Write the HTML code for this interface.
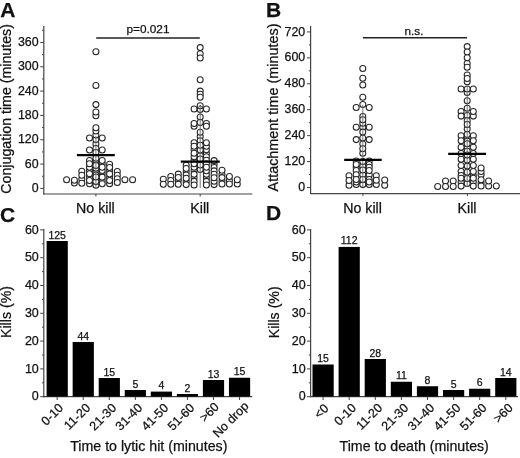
<!DOCTYPE html>
<html><head><meta charset="utf-8"><style>
html,body{margin:0;padding:0;background:#fff;width:520px;height:458px;overflow:hidden}
svg{display:block;font-family:"Liberation Sans", sans-serif;fill:#111;filter:grayscale(1) blur(0.3px)}
text{stroke:#111;stroke-width:0.25px}
circle{fill:#fff;stroke:#262626;stroke-width:1.05}
</style></head><body>
<svg width="520" height="458" viewBox="0 0 520 458">
<text x="0.3" y="17.4" font-size="21" font-weight="bold">A</text>
<text x="266" y="16.8" font-size="21" font-weight="bold">B</text>
<text x="0" y="221.5" font-size="21" font-weight="bold">C</text>
<text x="266" y="220.3" font-size="21" font-weight="bold">D</text>
<line x1="43.8" y1="26" x2="43.8" y2="194.6" stroke="#444" stroke-width="1.2"/>
<line x1="40.20" y1="188.40" x2="43.8" y2="188.40" stroke="#444" stroke-width="1"/>
<text x="38.6" y="192.00" font-size="12.4" text-anchor="end">0</text>
<line x1="40.20" y1="164.08" x2="43.8" y2="164.08" stroke="#444" stroke-width="1"/>
<text x="38.6" y="167.68" font-size="12.4" text-anchor="end">60</text>
<line x1="40.20" y1="139.75" x2="43.8" y2="139.75" stroke="#444" stroke-width="1"/>
<text x="38.6" y="143.35" font-size="12.4" text-anchor="end">120</text>
<line x1="40.20" y1="115.43" x2="43.8" y2="115.43" stroke="#444" stroke-width="1"/>
<text x="38.6" y="119.03" font-size="12.4" text-anchor="end">180</text>
<line x1="40.20" y1="91.10" x2="43.8" y2="91.10" stroke="#444" stroke-width="1"/>
<text x="38.6" y="94.70" font-size="12.4" text-anchor="end">240</text>
<line x1="40.20" y1="66.78" x2="43.8" y2="66.78" stroke="#444" stroke-width="1"/>
<text x="38.6" y="70.38" font-size="12.4" text-anchor="end">300</text>
<line x1="40.20" y1="42.46" x2="43.8" y2="42.46" stroke="#444" stroke-width="1"/>
<text x="38.6" y="46.06" font-size="12.4" text-anchor="end">360</text>
<line x1="42.00" y1="176.24" x2="43.8" y2="176.24" stroke="#444" stroke-width="1"/>
<line x1="42.00" y1="151.91" x2="43.8" y2="151.91" stroke="#444" stroke-width="1"/>
<line x1="42.00" y1="127.59" x2="43.8" y2="127.59" stroke="#444" stroke-width="1"/>
<line x1="42.00" y1="103.27" x2="43.8" y2="103.27" stroke="#444" stroke-width="1"/>
<line x1="42.00" y1="78.94" x2="43.8" y2="78.94" stroke="#444" stroke-width="1"/>
<line x1="42.00" y1="54.62" x2="43.8" y2="54.62" stroke="#444" stroke-width="1"/>
<line x1="42.00" y1="30.29" x2="43.8" y2="30.29" stroke="#444" stroke-width="1"/>
<line x1="43.20" y1="194" x2="252.3" y2="194" stroke="#444" stroke-width="1.2"/>
<line x1="95.90" y1="194" x2="95.90" y2="196.50" stroke="#444" stroke-width="1"/>
<line x1="200.20" y1="194" x2="200.20" y2="196.50" stroke="#444" stroke-width="1"/>
<line x1="310.6" y1="26" x2="310.6" y2="194.1" stroke="#444" stroke-width="1.2"/>
<line x1="307.00" y1="187.50" x2="310.6" y2="187.50" stroke="#444" stroke-width="1"/>
<text x="305.2" y="191.10" font-size="12.4" text-anchor="end">0</text>
<line x1="307.00" y1="161.57" x2="310.6" y2="161.57" stroke="#444" stroke-width="1"/>
<text x="305.2" y="165.17" font-size="12.4" text-anchor="end">120</text>
<line x1="307.00" y1="135.64" x2="310.6" y2="135.64" stroke="#444" stroke-width="1"/>
<text x="305.2" y="139.24" font-size="12.4" text-anchor="end">240</text>
<line x1="307.00" y1="109.70" x2="310.6" y2="109.70" stroke="#444" stroke-width="1"/>
<text x="305.2" y="113.30" font-size="12.4" text-anchor="end">360</text>
<line x1="307.00" y1="83.77" x2="310.6" y2="83.77" stroke="#444" stroke-width="1"/>
<text x="305.2" y="87.37" font-size="12.4" text-anchor="end">480</text>
<line x1="307.00" y1="57.84" x2="310.6" y2="57.84" stroke="#444" stroke-width="1"/>
<text x="305.2" y="61.44" font-size="12.4" text-anchor="end">600</text>
<line x1="307.00" y1="31.91" x2="310.6" y2="31.91" stroke="#444" stroke-width="1"/>
<text x="305.2" y="35.51" font-size="12.4" text-anchor="end">720</text>
<line x1="308.80" y1="174.53" x2="310.6" y2="174.53" stroke="#444" stroke-width="1"/>
<line x1="308.80" y1="148.60" x2="310.6" y2="148.60" stroke="#444" stroke-width="1"/>
<line x1="308.80" y1="122.67" x2="310.6" y2="122.67" stroke="#444" stroke-width="1"/>
<line x1="308.80" y1="96.74" x2="310.6" y2="96.74" stroke="#444" stroke-width="1"/>
<line x1="308.80" y1="70.81" x2="310.6" y2="70.81" stroke="#444" stroke-width="1"/>
<line x1="308.80" y1="44.87" x2="310.6" y2="44.87" stroke="#444" stroke-width="1"/>
<line x1="310.00" y1="193.6" x2="520" y2="193.6" stroke="#444" stroke-width="1.2"/>
<line x1="362.90" y1="193.6" x2="362.90" y2="196.10" stroke="#444" stroke-width="1"/>
<line x1="467.40" y1="193.6" x2="467.40" y2="196.10" stroke="#444" stroke-width="1"/>
<line x1="96.2" y1="38" x2="199.8" y2="38" stroke="#222" stroke-width="1.5"/>
<text x="148" y="33" font-size="11.8" text-anchor="middle">p=0.021</text>
<line x1="362.9" y1="37.8" x2="467.1" y2="37.8" stroke="#222" stroke-width="1.5"/>
<text x="414" y="35" font-size="11.8" text-anchor="middle">n.s.</text>
<text x="95.4" y="212.9" font-size="14.2" text-anchor="middle">No kill</text>
<text x="199.8" y="212.9" font-size="14.2" text-anchor="middle">Kill</text>
<text x="362.6" y="212.9" font-size="14.2" text-anchor="middle">No kill</text>
<text x="467" y="212.9" font-size="14.2" text-anchor="middle">Kill</text>
<text transform="translate(11,108.9) rotate(-90)" font-size="14.2" text-anchor="middle">Conjugation time (minutes)</text>
<text transform="translate(278,107.5) rotate(-90)" font-size="14.4" text-anchor="middle">Attachment time (minutes)</text>
<text transform="translate(11.4,312) rotate(-90)" font-size="14.2" text-anchor="middle">Kills (%)</text>
<text transform="translate(279,312.3) rotate(-90)" font-size="14.2" text-anchor="middle">Kills (%)</text>
<line x1="43.8" y1="229" x2="43.8" y2="397.2" stroke="#444" stroke-width="1.2"/>
<line x1="40.20" y1="396.70" x2="43.8" y2="396.70" stroke="#444" stroke-width="1"/>
<text x="38.8" y="400.30" font-size="12.5" text-anchor="end">0</text>
<line x1="40.20" y1="368.90" x2="43.8" y2="368.90" stroke="#444" stroke-width="1"/>
<text x="38.8" y="372.50" font-size="12.5" text-anchor="end">10</text>
<line x1="40.20" y1="341.10" x2="43.8" y2="341.10" stroke="#444" stroke-width="1"/>
<text x="38.8" y="344.70" font-size="12.5" text-anchor="end">20</text>
<line x1="40.20" y1="313.30" x2="43.8" y2="313.30" stroke="#444" stroke-width="1"/>
<text x="38.8" y="316.90" font-size="12.5" text-anchor="end">30</text>
<line x1="40.20" y1="285.50" x2="43.8" y2="285.50" stroke="#444" stroke-width="1"/>
<text x="38.8" y="289.10" font-size="12.5" text-anchor="end">40</text>
<line x1="40.20" y1="257.70" x2="43.8" y2="257.70" stroke="#444" stroke-width="1"/>
<text x="38.8" y="261.30" font-size="12.5" text-anchor="end">50</text>
<line x1="40.20" y1="229.90" x2="43.8" y2="229.90" stroke="#444" stroke-width="1"/>
<text x="38.8" y="233.50" font-size="12.5" text-anchor="end">60</text>
<line x1="42.00" y1="382.80" x2="43.8" y2="382.80" stroke="#444" stroke-width="1"/>
<line x1="42.00" y1="355.00" x2="43.8" y2="355.00" stroke="#444" stroke-width="1"/>
<line x1="42.00" y1="327.20" x2="43.8" y2="327.20" stroke="#444" stroke-width="1"/>
<line x1="42.00" y1="299.40" x2="43.8" y2="299.40" stroke="#444" stroke-width="1"/>
<line x1="42.00" y1="271.60" x2="43.8" y2="271.60" stroke="#444" stroke-width="1"/>
<line x1="42.00" y1="243.80" x2="43.8" y2="243.80" stroke="#444" stroke-width="1"/>
<line x1="43.20" y1="396.6" x2="252.3" y2="396.6" stroke="#444" stroke-width="1.2"/>
<line x1="57.20" y1="396.6" x2="57.20" y2="400.00" stroke="#444" stroke-width="1"/>
<line x1="83.25" y1="396.6" x2="83.25" y2="400.00" stroke="#444" stroke-width="1"/>
<line x1="109.30" y1="396.6" x2="109.30" y2="400.00" stroke="#444" stroke-width="1"/>
<line x1="135.35" y1="396.6" x2="135.35" y2="400.00" stroke="#444" stroke-width="1"/>
<line x1="161.40" y1="396.6" x2="161.40" y2="400.00" stroke="#444" stroke-width="1"/>
<line x1="187.45" y1="396.6" x2="187.45" y2="400.00" stroke="#444" stroke-width="1"/>
<line x1="213.50" y1="396.6" x2="213.50" y2="400.00" stroke="#444" stroke-width="1"/>
<line x1="239.55" y1="396.6" x2="239.55" y2="400.00" stroke="#444" stroke-width="1"/>
<rect x="46.60" y="241.0" width="21.2" height="155.60" fill="#000"/>
<text x="57.20" y="238.50" font-size="10.5" text-anchor="middle">125</text>
<text transform="translate(64.00,408.60) rotate(-45)" font-size="12.5" text-anchor="end">0-10</text>
<rect x="72.65" y="342" width="21.2" height="54.60" fill="#000"/>
<text x="83.25" y="339.50" font-size="10.5" text-anchor="middle">44</text>
<text transform="translate(91.05,408.60) rotate(-45)" font-size="12.5" text-anchor="end">11-20</text>
<rect x="98.70" y="378" width="21.2" height="18.60" fill="#000"/>
<text x="109.30" y="375.50" font-size="10.5" text-anchor="middle">15</text>
<text transform="translate(117.10,408.60) rotate(-45)" font-size="12.5" text-anchor="end">21-30</text>
<rect x="124.75" y="390" width="21.2" height="6.60" fill="#000"/>
<text x="135.35" y="387.50" font-size="10.5" text-anchor="middle">5</text>
<text transform="translate(143.15,408.60) rotate(-45)" font-size="12.5" text-anchor="end">31-40</text>
<rect x="150.80" y="391.6" width="21.2" height="5.00" fill="#000"/>
<text x="161.40" y="389.10" font-size="10.5" text-anchor="middle">4</text>
<text transform="translate(169.20,408.60) rotate(-45)" font-size="12.5" text-anchor="end">41-50</text>
<rect x="176.85" y="394" width="21.2" height="2.60" fill="#000"/>
<text x="187.45" y="391.50" font-size="10.5" text-anchor="middle">2</text>
<text transform="translate(195.25,408.60) rotate(-45)" font-size="12.5" text-anchor="end">51-60</text>
<rect x="202.90" y="380" width="21.2" height="16.60" fill="#000"/>
<text x="213.50" y="377.50" font-size="10.5" text-anchor="middle">13</text>
<text transform="translate(219.80,407.60) rotate(-45)" font-size="12.5" text-anchor="end">&gt;60</text>
<rect x="228.95" y="377.75" width="21.2" height="18.85" fill="#000"/>
<text x="239.55" y="375.25" font-size="10.5" text-anchor="middle">15</text>
<text transform="translate(249.35,406.90) rotate(-45)" font-size="12.5" text-anchor="end">No drop</text>
<text x="148.8" y="451" font-size="14.2" text-anchor="middle">Time to lytic hit (minutes)</text>
<line x1="310.6" y1="229" x2="310.6" y2="397.2" stroke="#444" stroke-width="1.2"/>
<line x1="307.00" y1="396.70" x2="310.6" y2="396.70" stroke="#444" stroke-width="1"/>
<text x="305.6" y="400.30" font-size="12.5" text-anchor="end">0</text>
<line x1="307.00" y1="368.90" x2="310.6" y2="368.90" stroke="#444" stroke-width="1"/>
<text x="305.6" y="372.50" font-size="12.5" text-anchor="end">10</text>
<line x1="307.00" y1="341.10" x2="310.6" y2="341.10" stroke="#444" stroke-width="1"/>
<text x="305.6" y="344.70" font-size="12.5" text-anchor="end">20</text>
<line x1="307.00" y1="313.30" x2="310.6" y2="313.30" stroke="#444" stroke-width="1"/>
<text x="305.6" y="316.90" font-size="12.5" text-anchor="end">30</text>
<line x1="307.00" y1="285.50" x2="310.6" y2="285.50" stroke="#444" stroke-width="1"/>
<text x="305.6" y="289.10" font-size="12.5" text-anchor="end">40</text>
<line x1="307.00" y1="257.70" x2="310.6" y2="257.70" stroke="#444" stroke-width="1"/>
<text x="305.6" y="261.30" font-size="12.5" text-anchor="end">50</text>
<line x1="307.00" y1="229.90" x2="310.6" y2="229.90" stroke="#444" stroke-width="1"/>
<text x="305.6" y="233.50" font-size="12.5" text-anchor="end">60</text>
<line x1="308.80" y1="382.80" x2="310.6" y2="382.80" stroke="#444" stroke-width="1"/>
<line x1="308.80" y1="355.00" x2="310.6" y2="355.00" stroke="#444" stroke-width="1"/>
<line x1="308.80" y1="327.20" x2="310.6" y2="327.20" stroke="#444" stroke-width="1"/>
<line x1="308.80" y1="299.40" x2="310.6" y2="299.40" stroke="#444" stroke-width="1"/>
<line x1="308.80" y1="271.60" x2="310.6" y2="271.60" stroke="#444" stroke-width="1"/>
<line x1="308.80" y1="243.80" x2="310.6" y2="243.80" stroke="#444" stroke-width="1"/>
<line x1="310.00" y1="396.6" x2="518" y2="396.6" stroke="#444" stroke-width="1.2"/>
<line x1="323.10" y1="396.6" x2="323.10" y2="400.00" stroke="#444" stroke-width="1"/>
<line x1="349.20" y1="396.6" x2="349.20" y2="400.00" stroke="#444" stroke-width="1"/>
<line x1="375.30" y1="396.6" x2="375.30" y2="400.00" stroke="#444" stroke-width="1"/>
<line x1="401.40" y1="396.6" x2="401.40" y2="400.00" stroke="#444" stroke-width="1"/>
<line x1="427.50" y1="396.6" x2="427.50" y2="400.00" stroke="#444" stroke-width="1"/>
<line x1="453.60" y1="396.6" x2="453.60" y2="400.00" stroke="#444" stroke-width="1"/>
<line x1="479.70" y1="396.6" x2="479.70" y2="400.00" stroke="#444" stroke-width="1"/>
<line x1="505.80" y1="396.6" x2="505.80" y2="400.00" stroke="#444" stroke-width="1"/>
<rect x="312.50" y="364.5" width="21.2" height="32.10" fill="#000"/>
<text x="323.10" y="362.00" font-size="10.5" text-anchor="middle">15</text>
<text transform="translate(329.40,409.10) rotate(-45)" font-size="12.5" text-anchor="end">&lt;0</text>
<rect x="338.60" y="246.9" width="21.2" height="149.70" fill="#000"/>
<text x="349.20" y="244.40" font-size="10.5" text-anchor="middle">112</text>
<text transform="translate(357.00,408.60) rotate(-45)" font-size="12.5" text-anchor="end">0-10</text>
<rect x="364.70" y="359" width="21.2" height="37.60" fill="#000"/>
<text x="375.30" y="356.50" font-size="10.5" text-anchor="middle">28</text>
<text transform="translate(383.10,408.60) rotate(-45)" font-size="12.5" text-anchor="end">11-20</text>
<rect x="390.80" y="381.75" width="21.2" height="14.85" fill="#000"/>
<text x="401.40" y="379.25" font-size="10.5" text-anchor="middle">11</text>
<text transform="translate(409.20,408.60) rotate(-45)" font-size="12.5" text-anchor="end">21-30</text>
<rect x="416.90" y="386.25" width="21.2" height="10.35" fill="#000"/>
<text x="427.50" y="383.75" font-size="10.5" text-anchor="middle">8</text>
<text transform="translate(435.30,408.60) rotate(-45)" font-size="12.5" text-anchor="end">31-40</text>
<rect x="443.00" y="390" width="21.2" height="6.60" fill="#000"/>
<text x="453.60" y="387.50" font-size="10.5" text-anchor="middle">5</text>
<text transform="translate(461.40,408.60) rotate(-45)" font-size="12.5" text-anchor="end">41-50</text>
<rect x="469.10" y="388.75" width="21.2" height="7.85" fill="#000"/>
<text x="479.70" y="386.25" font-size="10.5" text-anchor="middle">6</text>
<text transform="translate(487.50,408.60) rotate(-45)" font-size="12.5" text-anchor="end">51-60</text>
<rect x="495.20" y="378" width="21.2" height="18.60" fill="#000"/>
<text x="505.80" y="375.50" font-size="10.5" text-anchor="middle">14</text>
<text transform="translate(513.60,408.60) rotate(-45)" font-size="12.5" text-anchor="end">&gt;60</text>
<text x="414.2" y="451" font-size="14.2" text-anchor="middle">Time to death (minutes)</text>
<circle cx="95.9" cy="115.7" r="3.0"/>
<circle cx="467.2" cy="75" r="3.0"/>
<circle cx="473.3" cy="175.5" r="3.0"/>
<circle cx="89.5" cy="183.8" r="3.0"/>
<circle cx="461.1" cy="135.7" r="3.0"/>
<circle cx="95.9" cy="104.6" r="3.0"/>
<circle cx="461.1" cy="140.8" r="3.0"/>
<circle cx="89.5" cy="160.5" r="3.0"/>
<circle cx="214.1" cy="184.6" r="3.0"/>
<circle cx="89.5" cy="170.49" r="3.0"/>
<circle cx="481.1" cy="183" r="3.0"/>
<circle cx="194.1" cy="177.87" r="3.0"/>
<circle cx="467.2" cy="166.1" r="3.0"/>
<circle cx="194.1" cy="170.83" r="3.0"/>
<circle cx="200.2" cy="91.1" r="3.0"/>
<circle cx="206.4" cy="153.25" r="3.0"/>
<circle cx="445.5" cy="181" r="3.0"/>
<circle cx="178.3" cy="174.1" r="3.0"/>
<circle cx="74.4" cy="183" r="3.0"/>
<circle cx="194.1" cy="126.2" r="3.0"/>
<circle cx="102.2" cy="180.47" r="3.0"/>
<circle cx="473.3" cy="116.1" r="3.0"/>
<circle cx="467.2" cy="81.8" r="3.0"/>
<circle cx="170.8" cy="176.5" r="3.0"/>
<circle cx="200.2" cy="169.5" r="3.0"/>
<circle cx="461.1" cy="159.3" r="3.0"/>
<circle cx="369.2" cy="174.8" r="3.0"/>
<circle cx="461.1" cy="88.9" r="3.0"/>
<circle cx="89.5" cy="167.16" r="3.0"/>
<circle cx="473.3" cy="135.7" r="3.0"/>
<circle cx="200.2" cy="79.7" r="3.0"/>
<circle cx="178.3" cy="180.4" r="3.0"/>
<circle cx="369.2" cy="179.4" r="3.0"/>
<circle cx="356.2" cy="167.3" r="3.0"/>
<circle cx="356.2" cy="107.4" r="3.0"/>
<circle cx="206.4" cy="177.87" r="3.0"/>
<circle cx="362.8" cy="174.8" r="3.0"/>
<circle cx="214.1" cy="164.03" r="3.0"/>
<circle cx="473.3" cy="171.5" r="3.0"/>
<circle cx="467.2" cy="46.6" r="3.0"/>
<circle cx="214.1" cy="160.6" r="3.0"/>
<circle cx="194.1" cy="160.28" r="3.0"/>
<circle cx="95.9" cy="183.5" r="3.0"/>
<circle cx="222.0" cy="181.1" r="3.0"/>
<circle cx="66.6" cy="179.8" r="3.0"/>
<circle cx="384.7" cy="185.2" r="3.0"/>
<circle cx="362.8" cy="138" r="3.0"/>
<circle cx="109.6" cy="170.73" r="3.0"/>
<circle cx="117.3" cy="171.5" r="3.0"/>
<circle cx="178.3" cy="184.2" r="3.0"/>
<circle cx="473.3" cy="147.3" r="3.0"/>
<circle cx="206.4" cy="149.73" r="3.0"/>
<circle cx="362.8" cy="182" r="3.0"/>
<circle cx="369.2" cy="107.4" r="3.0"/>
<circle cx="467.2" cy="63.4" r="3.0"/>
<circle cx="356.2" cy="170.5" r="3.0"/>
<circle cx="467.2" cy="137.5" r="3.0"/>
<circle cx="362.8" cy="84.9" r="3.0"/>
<circle cx="206.4" cy="109" r="3.0"/>
<circle cx="200.2" cy="53.7" r="3.0"/>
<circle cx="467.2" cy="129.1" r="3.0"/>
<circle cx="102.2" cy="173.81" r="3.0"/>
<circle cx="488.6" cy="186" r="3.0"/>
<circle cx="95.9" cy="144" r="3.0"/>
<circle cx="95.9" cy="112" r="3.0"/>
<circle cx="349.0" cy="185.2" r="3.0"/>
<circle cx="461.1" cy="171.5" r="3.0"/>
<circle cx="206.4" cy="146.22" r="3.0"/>
<circle cx="186.2" cy="171.73" r="3.0"/>
<circle cx="206.4" cy="174.35" r="3.0"/>
<circle cx="186.2" cy="165.3" r="3.0"/>
<circle cx="376.3" cy="184.4" r="3.0"/>
<circle cx="362.8" cy="184.6" r="3.0"/>
<circle cx="95.9" cy="163.3" r="3.0"/>
<circle cx="222.0" cy="174.4" r="3.0"/>
<circle cx="461.1" cy="165.5" r="3.0"/>
<circle cx="467.2" cy="147.8" r="3.0"/>
<circle cx="95.9" cy="139.5" r="3.0"/>
<circle cx="453.2" cy="181" r="3.0"/>
<circle cx="95.9" cy="135" r="3.0"/>
<circle cx="194.1" cy="167.32" r="3.0"/>
<circle cx="200.2" cy="165" r="3.0"/>
<circle cx="473.3" cy="182" r="3.0"/>
<circle cx="95.9" cy="160.5" r="3.0"/>
<circle cx="362.8" cy="116.4" r="3.0"/>
<circle cx="109.6" cy="177.27" r="3.0"/>
<circle cx="194.1" cy="181.38" r="3.0"/>
<circle cx="109.6" cy="174.0" r="3.0"/>
<circle cx="214.1" cy="181.17" r="3.0"/>
<circle cx="214.1" cy="167.46" r="3.0"/>
<circle cx="74.4" cy="180.2" r="3.0"/>
<circle cx="95.9" cy="131" r="3.0"/>
<circle cx="194.1" cy="142.7" r="3.0"/>
<circle cx="194.1" cy="109" r="3.0"/>
<circle cx="369.2" cy="139.6" r="3.0"/>
<circle cx="200.2" cy="58" r="3.0"/>
<circle cx="362.8" cy="78.3" r="3.0"/>
<circle cx="362.8" cy="127.2" r="3.0"/>
<circle cx="102.2" cy="177.14" r="3.0"/>
<circle cx="496.3" cy="186" r="3.0"/>
<circle cx="467.2" cy="172.3" r="3.0"/>
<circle cx="109.6" cy="164.2" r="3.0"/>
<circle cx="200.2" cy="94.2" r="3.0"/>
<circle cx="109.6" cy="183.8" r="3.0"/>
<circle cx="467.2" cy="115.4" r="3.0"/>
<circle cx="95.9" cy="51.8" r="3.0"/>
<circle cx="461.1" cy="111.5" r="3.0"/>
<circle cx="467.2" cy="120.7" r="3.0"/>
<circle cx="473.3" cy="111.5" r="3.0"/>
<circle cx="200.2" cy="136.5" r="3.0"/>
<circle cx="467.2" cy="67.3" r="3.0"/>
<circle cx="349.0" cy="175.8" r="3.0"/>
<circle cx="95.9" cy="85.5" r="3.0"/>
<circle cx="362.8" cy="153.3" r="3.0"/>
<circle cx="194.1" cy="123.5" r="3.0"/>
<circle cx="467.2" cy="159.9" r="3.0"/>
<circle cx="186.2" cy="181.38" r="3.0"/>
<circle cx="95.9" cy="185.3" r="3.0"/>
<circle cx="356.2" cy="161" r="3.0"/>
<circle cx="356.2" cy="139.6" r="3.0"/>
<circle cx="163.3" cy="179.3" r="3.0"/>
<circle cx="467.2" cy="134.4" r="3.0"/>
<circle cx="206.4" cy="181.38" r="3.0"/>
<circle cx="362.8" cy="179.4" r="3.0"/>
<circle cx="81.8" cy="179.2" r="3.0"/>
<circle cx="467.2" cy="100.8" r="3.0"/>
<circle cx="206.4" cy="156.77" r="3.0"/>
<circle cx="356.2" cy="184.4" r="3.0"/>
<circle cx="206.4" cy="170.83" r="3.0"/>
<circle cx="473.3" cy="186.1" r="3.0"/>
<circle cx="200.2" cy="109.5" r="3.0"/>
<circle cx="206.4" cy="142.7" r="3.0"/>
<circle cx="362.8" cy="104.5" r="3.0"/>
<circle cx="349.0" cy="180.5" r="3.0"/>
<circle cx="369.2" cy="184.4" r="3.0"/>
<circle cx="362.8" cy="166" r="3.0"/>
<circle cx="206.4" cy="123.5" r="3.0"/>
<circle cx="461.1" cy="175.5" r="3.0"/>
<circle cx="376.3" cy="175.8" r="3.0"/>
<circle cx="102.2" cy="138" r="3.0"/>
<circle cx="369.2" cy="161" r="3.0"/>
<circle cx="117.3" cy="175.17" r="3.0"/>
<circle cx="362.8" cy="123.3" r="3.0"/>
<circle cx="481.1" cy="174.8" r="3.0"/>
<circle cx="481.1" cy="171.5" r="3.0"/>
<circle cx="81.8" cy="171.2" r="3.0"/>
<circle cx="194.1" cy="156.77" r="3.0"/>
<circle cx="186.2" cy="174.95" r="3.0"/>
<circle cx="95.9" cy="127.8" r="3.0"/>
<circle cx="194.1" cy="149.73" r="3.0"/>
<circle cx="194.1" cy="184.9" r="3.0"/>
<circle cx="200.2" cy="117" r="3.0"/>
<circle cx="369.2" cy="164.4" r="3.0"/>
<circle cx="369.2" cy="182" r="3.0"/>
<circle cx="200.2" cy="155.7" r="3.0"/>
<circle cx="467.2" cy="92.4" r="3.0"/>
<circle cx="473.3" cy="159.3" r="3.0"/>
<circle cx="186.2" cy="184.6" r="3.0"/>
<circle cx="200.2" cy="97.3" r="3.0"/>
<circle cx="473.3" cy="178.2" r="3.0"/>
<circle cx="95.9" cy="172.8" r="3.0"/>
<circle cx="488.6" cy="181" r="3.0"/>
<circle cx="461.1" cy="147.3" r="3.0"/>
<circle cx="467.2" cy="78.5" r="3.0"/>
<circle cx="362.8" cy="97.3" r="3.0"/>
<circle cx="194.1" cy="153.25" r="3.0"/>
<circle cx="356.2" cy="174.8" r="3.0"/>
<circle cx="467.2" cy="52" r="3.0"/>
<circle cx="467.2" cy="141.3" r="3.0"/>
<circle cx="461.1" cy="153.5" r="3.0"/>
<circle cx="481.1" cy="168" r="3.0"/>
<circle cx="356.2" cy="127.2" r="3.0"/>
<circle cx="95.9" cy="148.5" r="3.0"/>
<circle cx="356.2" cy="182" r="3.0"/>
<circle cx="214.1" cy="170.89" r="3.0"/>
<circle cx="102.2" cy="170.49" r="3.0"/>
<circle cx="369.2" cy="167.3" r="3.0"/>
<circle cx="102.2" cy="183.8" r="3.0"/>
<circle cx="461.1" cy="116.1" r="3.0"/>
<circle cx="178.3" cy="177.5" r="3.0"/>
<circle cx="467.2" cy="183.5" r="3.0"/>
<circle cx="95.9" cy="175" r="3.0"/>
<circle cx="362.8" cy="119.8" r="3.0"/>
<circle cx="200.2" cy="122.5" r="3.0"/>
<circle cx="206.4" cy="184.9" r="3.0"/>
<circle cx="194.1" cy="146.22" r="3.0"/>
<circle cx="214.1" cy="174.31" r="3.0"/>
<circle cx="222.0" cy="170.2" r="3.0"/>
<circle cx="376.3" cy="180.2" r="3.0"/>
<circle cx="461.1" cy="182" r="3.0"/>
<circle cx="95.9" cy="181.6" r="3.0"/>
<circle cx="132.6" cy="179.7" r="3.0"/>
<circle cx="356.2" cy="179.4" r="3.0"/>
<circle cx="467.2" cy="151.2" r="3.0"/>
<circle cx="200.2" cy="47.6" r="3.0"/>
<circle cx="200.2" cy="140.7" r="3.0"/>
<circle cx="194.1" cy="163.8" r="3.0"/>
<circle cx="186.2" cy="168.52" r="3.0"/>
<circle cx="461.1" cy="178.2" r="3.0"/>
<circle cx="186.2" cy="178.17" r="3.0"/>
<circle cx="200.2" cy="159" r="3.0"/>
<circle cx="384.7" cy="179.9" r="3.0"/>
<circle cx="437.7" cy="186.4" r="3.0"/>
<circle cx="222.0" cy="177.6" r="3.0"/>
<circle cx="453.2" cy="186.4" r="3.0"/>
<circle cx="214.1" cy="177.74" r="3.0"/>
<circle cx="109.6" cy="180.53" r="3.0"/>
<circle cx="362.8" cy="132.1" r="3.0"/>
<circle cx="461.1" cy="186.1" r="3.0"/>
<circle cx="473.3" cy="153.5" r="3.0"/>
<circle cx="95.9" cy="168.3" r="3.0"/>
<circle cx="369.2" cy="127.2" r="3.0"/>
<circle cx="170.8" cy="180.4" r="3.0"/>
<circle cx="481.1" cy="186" r="3.0"/>
<circle cx="194.1" cy="174.35" r="3.0"/>
<circle cx="481.1" cy="179.8" r="3.0"/>
<circle cx="362.8" cy="161.5" r="3.0"/>
<circle cx="467.2" cy="178.5" r="3.0"/>
<circle cx="237.3" cy="184.0" r="3.0"/>
<circle cx="89.5" cy="163.83" r="3.0"/>
<circle cx="81.8" cy="183.2" r="3.0"/>
<circle cx="356.2" cy="164.4" r="3.0"/>
<circle cx="467.2" cy="88.9" r="3.0"/>
<circle cx="229.4" cy="180.4" r="3.0"/>
<circle cx="200.2" cy="149.9" r="3.0"/>
<circle cx="163.3" cy="184.2" r="3.0"/>
<circle cx="89.5" cy="177.14" r="3.0"/>
<circle cx="222.0" cy="184.0" r="3.0"/>
<circle cx="102.2" cy="163.83" r="3.0"/>
<circle cx="206.4" cy="160.28" r="3.0"/>
<circle cx="200.2" cy="132.3" r="3.0"/>
<circle cx="102.2" cy="150" r="3.0"/>
<circle cx="467.2" cy="143.7" r="3.0"/>
<circle cx="229.4" cy="176.5" r="3.0"/>
<circle cx="95.9" cy="152.5" r="3.0"/>
<circle cx="117.3" cy="178.83" r="3.0"/>
<circle cx="95.9" cy="158.3" r="3.0"/>
<circle cx="206.4" cy="126.2" r="3.0"/>
<circle cx="473.3" cy="140.8" r="3.0"/>
<circle cx="237.3" cy="179.7" r="3.0"/>
<circle cx="473.3" cy="165.5" r="3.0"/>
<circle cx="362.8" cy="68.5" r="3.0"/>
<circle cx="362.8" cy="143.9" r="3.0"/>
<circle cx="362.8" cy="148.8" r="3.0"/>
<circle cx="117.3" cy="182.5" r="3.0"/>
<circle cx="473.3" cy="88.9" r="3.0"/>
<circle cx="89.5" cy="180.47" r="3.0"/>
<circle cx="229.4" cy="184.0" r="3.0"/>
<circle cx="467.2" cy="108.2" r="3.0"/>
<circle cx="95.9" cy="165.5" r="3.0"/>
<circle cx="206.4" cy="163.8" r="3.0"/>
<circle cx="170.8" cy="184.2" r="3.0"/>
<circle cx="89.5" cy="138" r="3.0"/>
<circle cx="124.9" cy="179.7" r="3.0"/>
<circle cx="102.2" cy="160.5" r="3.0"/>
<circle cx="467.2" cy="124.5" r="3.0"/>
<circle cx="467.2" cy="155" r="3.0"/>
<circle cx="81.8" cy="175.2" r="3.0"/>
<circle cx="95.9" cy="177" r="3.0"/>
<circle cx="206.4" cy="167.32" r="3.0"/>
<circle cx="445.5" cy="186.4" r="3.0"/>
<circle cx="89.5" cy="173.81" r="3.0"/>
<circle cx="369.2" cy="170.5" r="3.0"/>
<circle cx="109.6" cy="167.47" r="3.0"/>
<circle cx="102.2" cy="167.16" r="3.0"/>
<circle cx="89.5" cy="150" r="3.0"/>
<circle cx="467.2" cy="57.7" r="3.0"/>
<circle cx="200.2" cy="145.3" r="3.0"/>
<circle cx="362.8" cy="170" r="3.0"/>
<circle cx="200.2" cy="105.8" r="3.0"/>
<line x1="95.9" y1="136" x2="95.9" y2="188" stroke="#666" stroke-width="0.9"/>
<line x1="200.2" y1="105.2" x2="200.2" y2="188" stroke="#666" stroke-width="0.9"/>
<line x1="362.8" y1="104.8" x2="362.8" y2="187" stroke="#666" stroke-width="0.9"/>
<line x1="467.2" y1="86.5" x2="467.2" y2="187" stroke="#666" stroke-width="0.9"/>
<polyline points="198.6,107.2 200.2,105.2 201.8,107.2" fill="none" stroke="#333" stroke-width="0.9"/>
<line x1="76.9" y1="155.2" x2="114.8" y2="155.2" stroke="#000" stroke-width="2.3"/>
<line x1="180.8" y1="161.6" x2="219.8" y2="161.6" stroke="#000" stroke-width="2.3"/>
<line x1="344.2" y1="159.8" x2="381.7" y2="159.8" stroke="#000" stroke-width="2.3"/>
<line x1="448.2" y1="153.9" x2="486.1" y2="153.9" stroke="#000" stroke-width="2.3"/>
</svg></body></html>
